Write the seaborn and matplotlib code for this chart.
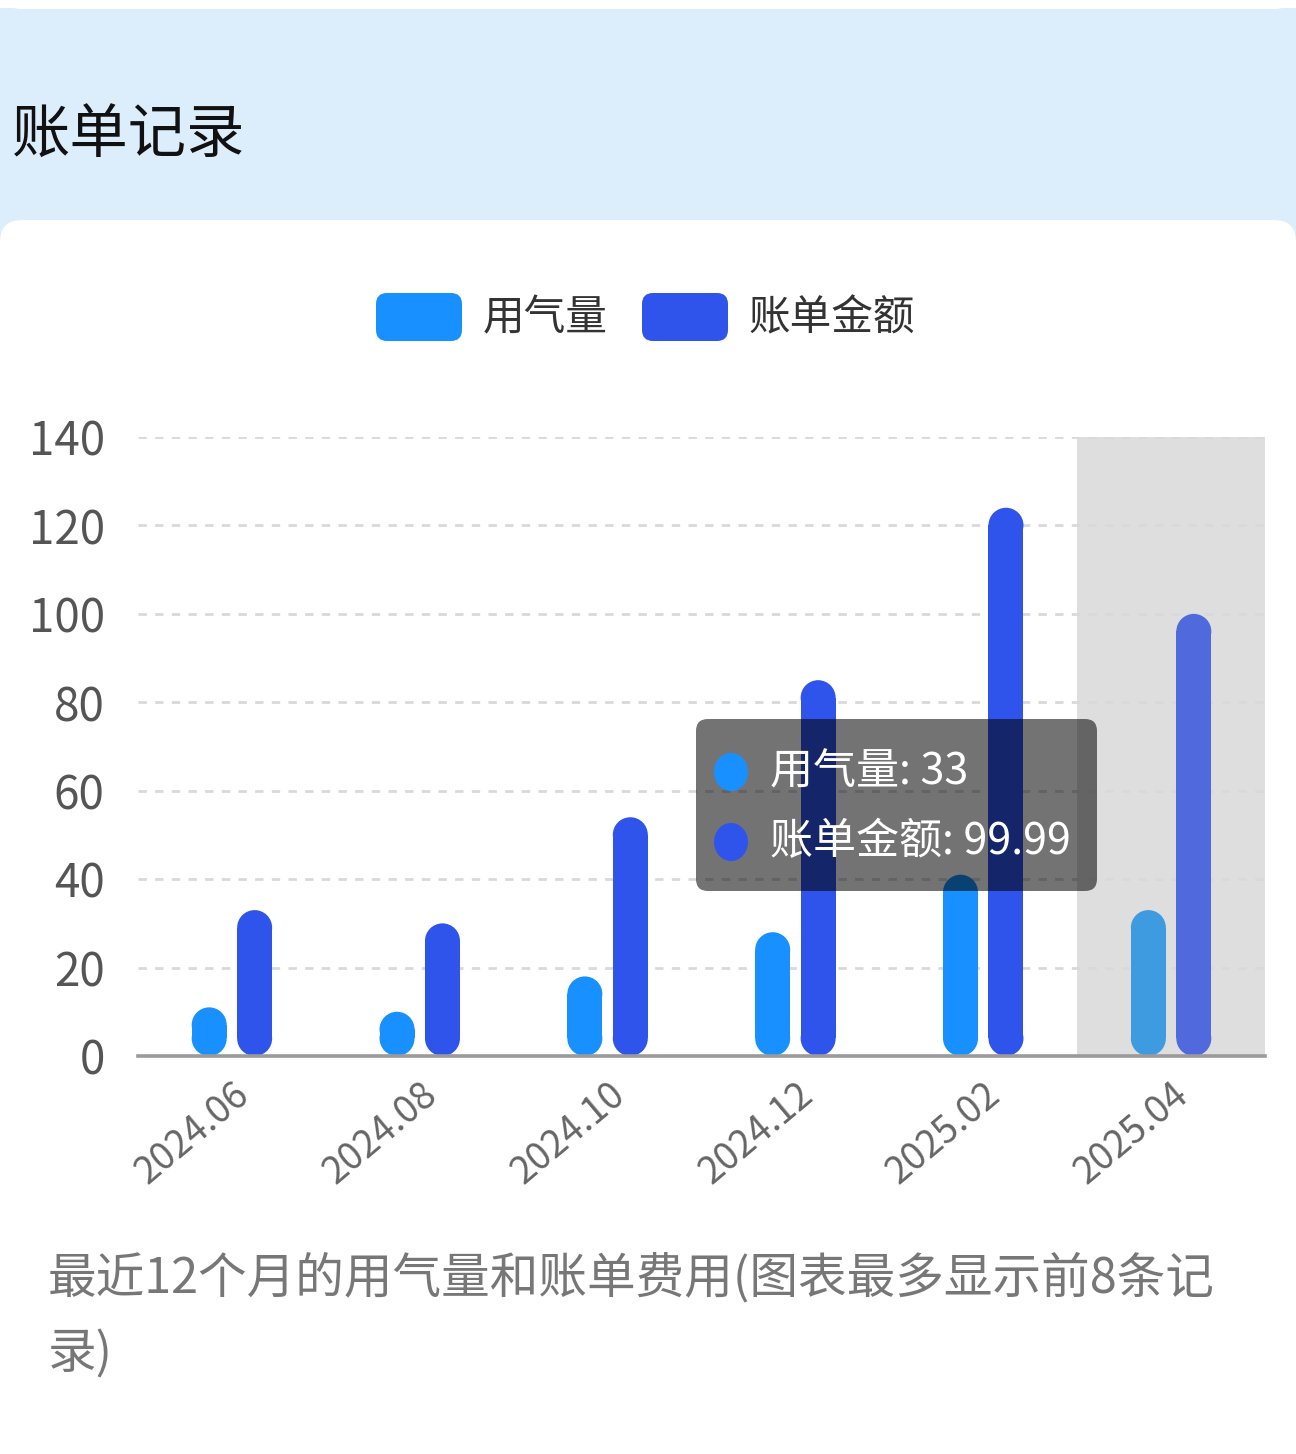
import matplotlib
matplotlib.use("Agg")
import matplotlib.pyplot as plt
import seaborn as sns
import pandas as pd
from matplotlib.patches import FancyBboxPatch, Rectangle, Circle, Ellipse

# ---------- data ----------
months = ["2024.06", "2024.08", "2024.10", "2024.12", "2025.02", "2025.04"]
gas_usage = [11, 10, 18, 28, 41, 33]
bill_amount = [33, 30, 54, 85, 124, 99.99]
series_names = ["用气量", "账单金额"]
y_ticks = [0, 20, 40, 60, 80, 100, 120, 140]
tooltip_index = 5

colors = ["#1890ff", "#2f54eb"]
faded = ["#3e9be0", "#5069dc"]

df = pd.DataFrame({
    "month": months * 2,
    "value": gas_usage + bill_amount,
    "series": [series_names[0]] * len(months) + [series_names[1]] * len(months),
})

# ---------- style ----------
sns.set_style("white")
plt.rcParams["font.family"] = ["Noto Sans CJK SC", "DejaVu Sans"]

W, H = 1296, 1454
fig = plt.figure(figsize=(W / 100, H / 100), dpi=100)
fig.patch.set_facecolor("white")


def fx(px):
    return px / W


def fy(py):
    return 1 - py / H


def rbox(x0, y0, x1, y1, r, **kw):
    # rounded box in pixel coords (top-left origin) drawn on the figure
    p = FancyBboxPatch((fx(x0), fy(y1)), fx(x1 - x0), (y1 - y0) / H,
                       boxstyle=f"round,pad=0,rounding_size={r / W}",
                       mutation_aspect=W / H, transform=fig.transFigure, **kw)
    fig.patches.append(p)
    return p


# page background: blue header band + white card
fig.patches.append(Rectangle((0, fy(260)), 1, (260 - 8) / H, transform=fig.transFigure,
                             facecolor="#dcedfc", edgecolor="none", zorder=0))
rbox(0, 220, W, H + 40, 22, facecolor="white", edgecolor="none", zorder=1)
rbox(0, -40, W, 9, 22, facecolor="white", edgecolor="none", zorder=1)

fig.text(fx(12), fy(136), "账单记录", fontsize=42, color="#111111", weight="medium",
         ha="left", va="center", zorder=3)

# ---------- chart ----------
ax = fig.add_axes([fx(138), fy(1056), fx(1265) - fx(138), (1056 - 437) / H])
ax.set_facecolor("none")
ax.set_zorder(2)

sns.barplot(data=df, x="month", y="value", hue="series", palette=colors,
            width=0.484, gap=0.23, ax=ax, legend=False, saturation=1)
bars = list(ax.patches)

ax.set_xlim(-0.5, len(months) - 0.5)
ax.set_ylim(0, 140)
ax.axvspan(tooltip_index - 0.5, tooltip_index + 0.5, color="#dedede", zorder=0, lw=0)

# turn the rectangles into pill shapes (rectangle + two round caps)
axw = (fx(1265) - fx(138)) * W
axh = 1056 - 437
aspect = (140 / axh) / (len(months) / axw)
for bar in bars:
    x, y = bar.get_x(), bar.get_y()
    w, h = bar.get_width(), bar.get_height()
    if w == 0:
        continue
    cx = x + w / 2
    k = int(round(cx))
    s = 0 if cx < k else 1
    col = faded[s] if k == tooltip_index else colors[s]
    bar.set_visible(False)
    ry = w / 2 * aspect
    ax.add_patch(Rectangle((x, y + ry), w, h - 2 * ry, facecolor=col, edgecolor="none", zorder=3))
    for cy in (y + ry, y + h - ry):
        ax.add_patch(Ellipse((cx, cy), w, 2 * ry, facecolor=col, edgecolor="none", zorder=3))

ax.set_yticks(y_ticks)
ax.yaxis.grid(True, linestyle=(0, (3, 3)), color="#d9d9d9", lw=2, zorder=1)
ax.set_axisbelow(True)
for sp in ["top", "right", "left"]:
    ax.spines[sp].set_visible(False)
ax.spines["bottom"].set_color("#9a9a9a")
ax.spines["bottom"].set_linewidth(2.6)
ax.spines["bottom"].set_zorder(4)
ax.tick_params(axis="y", length=0, pad=24, labelsize=33, labelcolor="#555555")
ax.tick_params(axis="x", length=0, pad=14, labelsize=27, labelcolor="#666666")
plt.setp(ax.get_xticklabels(), rotation=40, ha="right", rotation_mode="anchor")
ax.set_xlabel("")
ax.set_ylabel("")

# ---------- legend ----------
legend_boxes = [(376, 462, 483), (642, 728, 748)]
for (x0, x1, tx), name, col in zip(legend_boxes, series_names, colors):
    rbox(x0, 293, x1, 341, 11, facecolor=col, edgecolor="none", zorder=3)
    fig.text(fx(tx), fy(319), name, fontsize=30, color="#333333", ha="left", va="center", zorder=3)

# ---------- tooltip ----------
rbox(696, 719, 1097, 891, 12, facecolor=(0, 0, 0, 0.55), edgecolor="none", zorder=5)
tip_vals = [f"{gas_usage[tooltip_index]:g}", f"{bill_amount[tooltip_index]:g}"]
for j, (name, val, col) in enumerate(zip(series_names, tip_vals, colors)):
    cy = 772 + j * 70
    fig.patches.append(Circle((fx(731), fy(cy)), 17 / W, transform=fig.transFigure,
                              facecolor=col, edgecolor="none", zorder=6))
    fig.text(fx(770), fy(cy), f"{name}: {val}", fontsize=31, color="white",
             ha="left", va="center", zorder=7)

# ---------- footer ----------
fig.text(fx(48), fy(1278), "最近12个月的用气量和账单费用(图表最多显示前8条记",
         fontsize=35, color="#777777", ha="left", va="center", zorder=3)
fig.text(fx(48), fy(1355), "录)", fontsize=35, color="#777777", ha="left", va="center", zorder=3)

fig.savefig("out.png", dpi=100)
